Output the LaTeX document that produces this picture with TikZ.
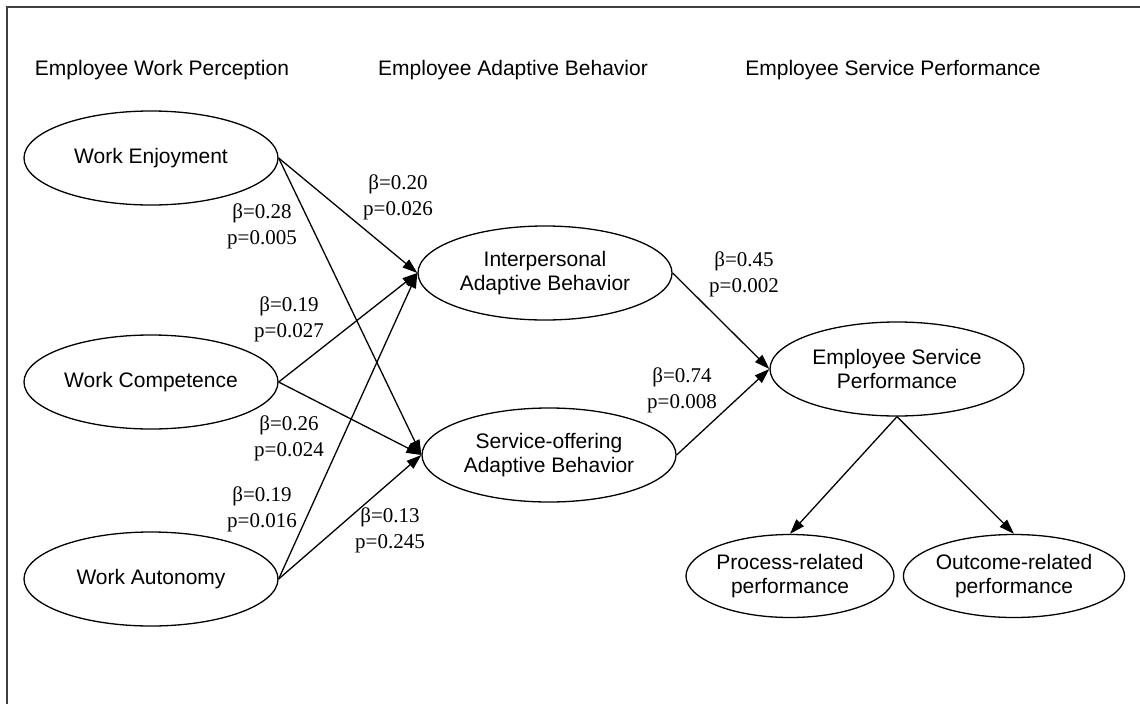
\documentclass[tikz,border=0pt]{standalone}
\usepackage{fontspec}
\setmainfont{Liberation Serif}
\setsansfont{Liberation Sans}
\usetikzlibrary{shapes.geometric,arrows.meta}
\tikzset{
  lat/.style={draw, line width=1.3pt, ellipse, inner sep=0pt, minimum width=254pt, minimum height=94pt,
    align=center, font=\sffamily\fontsize{21}{24}\selectfont},
  sublat/.style={lat, minimum width=206pt, minimum height=83pt},
  hdr/.style={font=\sffamily\fontsize{21}{24}\selectfont, inner sep=0pt},
  coef/.style={align=center, font=\fontsize{21}{26}\selectfont, inner sep=0pt},
  path/.style={line width=1.3pt, -{Triangle[length=15pt,width=10pt]}}
}
\begin{document}
\begin{tikzpicture}[x=1pt,y=-1pt]
\useasboundingbox (0,0) rectangle (1140,704);
\draw[black!75, line width=1.5pt] (7,704) -- (7,7) -- (1140,7);

\node[hdr] (h1) at (162,70) {Employee Work Perception};
\node[hdr] (h2) at (513,70) {Employee Adaptive Behavior};
\node[hdr] (h3) at (893,70) {Employee Service Performance};

\node[lat] (we) at (151,158) {Work Enjoyment};
\node[lat] (wc) at (151,382) {Work Competence};
\node[lat] (wa) at (151,579) {Work Autonomy};
\node[lat] (ia) at (545,273) {Interpersonal\\Adaptive Behavior};
\node[lat] (sa) at (549,455) {Service-offering\\Adaptive Behavior};
\node[lat] (esp) at (897,369) {Employee Service\\Performance};
\node[sublat] (pr) at (790,576) {Process-related\\performance};
\node[sublat] (or) at (1014,576) {Outcome-related\\performance};

\draw[path] (we.east) -- (ia.west);
\draw[path] (we.east) -- (sa.west);
\draw[path] (wc.east) -- (ia.west);
\draw[path] (wc.east) -- (sa.west);
\draw[path] (wa.east) -- (ia.west);
\draw[path] (wa.east) -- (sa.west);
\draw[path] (ia.east) -- (esp.west);
\draw[path] (sa.east) -- (esp.west);
\draw[path] (esp.south) -- (pr.north);
\draw[path] (esp.south) -- (or.north);

\node[coef] (c1) at (398,197) {β=0.20\\p=0.026};
\node[coef] (c2) at (262,226) {β=0.28\\p=0.005};
\node[coef] (c3) at (289,319) {β=0.19\\p=0.027};
\node[coef] (c4) at (289,438) {β=0.26\\p=0.024};
\node[coef] (c5) at (262,509) {β=0.19\\p=0.016};
\node[coef] (c6) at (390,530) {β=0.13\\p=0.245};
\node[coef] (c7) at (744,274) {β=0.45\\p=0.002};
\node[coef] (c8) at (682,390) {β=0.74\\p=0.008};
\end{tikzpicture}
\end{document}
